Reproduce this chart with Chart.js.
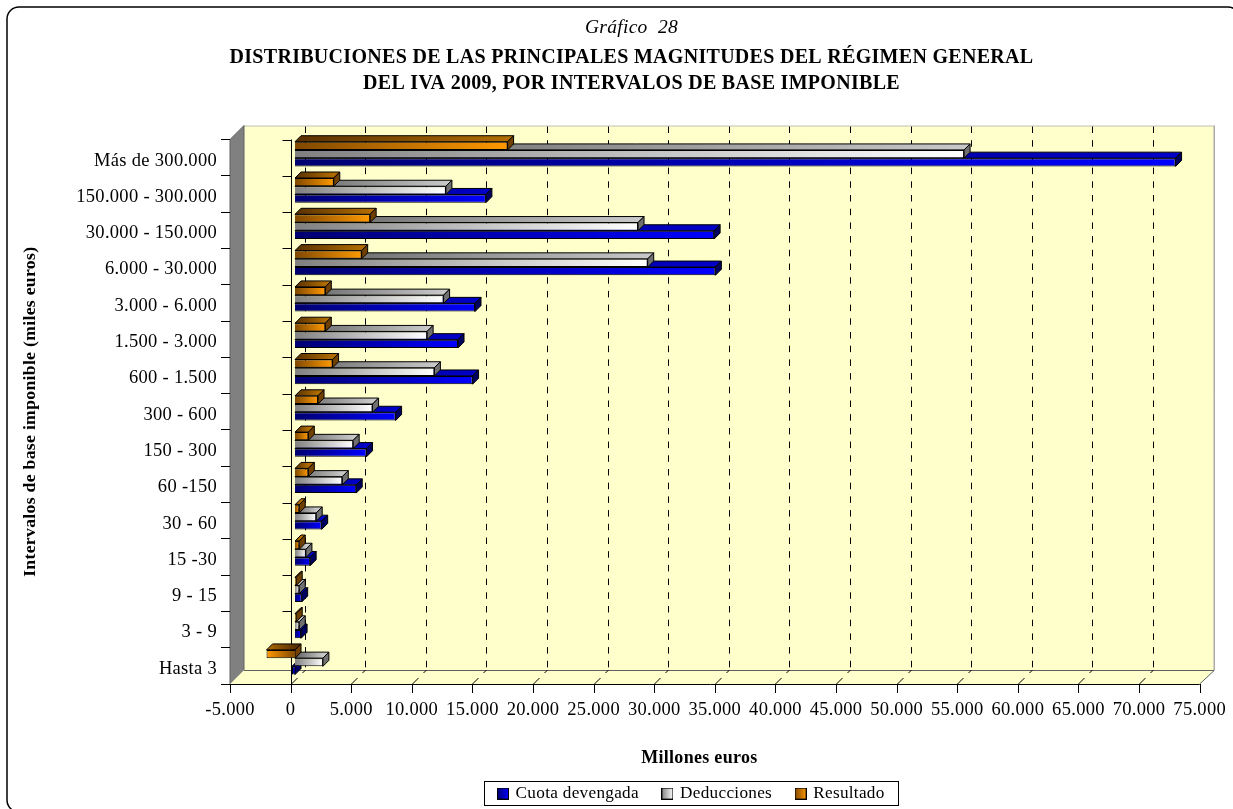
<!DOCTYPE html>
<html lang="es">
  <head>
    <meta charset="UTF-8" />
    <title>Gráfico 28</title>
    <script src="https://cdn.jsdelivr.net/npm/chart.js@4"></script>
    <style>
      html, body { margin: 0; padding: 0; background: #fff; overflow: hidden; }
      canvas { display: block; }
    </style>
  </head>
  <body>
    <canvas id="chart" width="1233" height="809"></canvas>
    <script>
      const categories = ["Más de 300.000", "150.000 - 300.000", "30.000 - 150.000", "6.000 - 30.000", "3.000 - 6.000", "1.500 - 3.000", "600 - 1.500", "300 - 600", "150 - 300", "60 -150", "30 - 60", "15 -30", "9 - 15", "3 - 9", "Hasta 3"];
      const cuotaDevengada = [72650, 15750, 34580, 34680, 14850, 13450, 14650, 8300, 5900, 5050, 2200, 1250, 550, 500, -250];
      const deducciones = [55200, 12450, 28300, 29100, 12260, 10900, 11500, 6400, 4800, 3900, 1750, 900, 350, 350, 2300];
      const resultado = [17540, 3200, 6200, 5500, 2500, 2500, 3100, 1900, 1100, 1100, 350, 350, 100, 100, -2350];
      const seriesNames = ["Cuota devengada", "Deducciones", "Resultado"];

      const serif = "'Liberation Serif', 'Times New Roman', serif";
      const DEPTH = 6; // bar depth
      const WALL = 14; // offset of the back wall
      const BAR_DX = 4.4;
      const BAR_DY = -3.6;
      const SPACING = "0.3px";

      // face dark, face bright, top dark, top bright, side
      const colors = {
        blue: ["#000070", "#0000ff", "#000060", "#0000c8", "#000060"],
        grey: ["#808080", "#ffffff", "#606060", "#c8c8c8", "#707070"],
        orange: ["#804800", "#ff9900", "#583000", "#b06c00", "#704000"],
      };

      function faceGradient(c, col) {
        const chart = c.chart;
        if (!chart.chartArea || c.parsed === undefined) return col[1];
        const x = chart.scales.x;
        const x0 = x.getPixelForValue(0);
        const x1 = x.getPixelForValue(c.parsed.x);
        const g = chart.ctx.createLinearGradient(x0, 0, x1 === x0 ? x0 + 1 : x1, 0);
        g.addColorStop(0, col[0]);
        g.addColorStop(1, col[1]);
        return g;
      }

      function swatch(col) {
        const s = document.createElement("canvas");
        s.width = 12;
        s.height = 12;
        const g = s.getContext("2d");
        const grad = g.createLinearGradient(0, 0, 12, 0);
        grad.addColorStop(0, col[0]);
        grad.addColorStop(1, col[1]);
        g.fillStyle = grad;
        g.fillRect(0, 0, 12, 12);
        g.strokeStyle = "#000";
        g.strokeRect(0.5, 0.5, 11, 11);
        return s;
      }

      function poly(ctx, pts, fill, stroke) {
        ctx.beginPath();
        pts.forEach((p, i) => (i ? ctx.lineTo(p[0], p[1]) : ctx.moveTo(p[0], p[1])));
        ctx.closePath();
        if (fill) {
          ctx.fillStyle = fill;
          ctx.fill();
        }
        if (stroke) {
          ctx.strokeStyle = stroke;
          ctx.stroke();
        }
      }

      // walls, floor and dashed grid behind the bars
      const box3d = {
        id: "box3d",
        beforeUpdate(chart) {
          chart.ctx.letterSpacing = SPACING;
        },
        afterLayout(chart) {
          const lg = chart.legend;
          lg.left = 474.5;
          lg.right = 1000;
          lg.top = 760.5;
          lg.bottom = 809;
          // titles are centred over the page, a bit right of the canvas middle
          chart.boxes.forEach((b) => {
            if (!b.axis && b !== lg) {
              b.left = 30;
              b.right = 1233;
            }
          });
          const x = chart.scales.x;
          const drawTitle = x.drawTitle;
          x.drawTitle = function () {
            chart.ctx.save();
            chart.ctx.translate(-15.5, 12);
            drawTitle.call(x);
            chart.ctx.restore();
          };
        },
        beforeDraw(chart) {
          const ctx = chart.ctx;
          const { left, right, top, bottom } = chart.chartArea;
          const x = chart.scales.x;
          ctx.save();
          ctx.letterSpacing = SPACING;
          ctx.fillStyle = "#fff";
          ctx.fillRect(0, 0, chart.width, chart.height);

          // outer frame
          ctx.beginPath();
          ctx.roundRect(7, 7, 1233, 805, 12);
          ctx.strokeStyle = "#000";
          ctx.lineWidth = 1.5;
          ctx.stroke();
          ctx.lineWidth = 1;

          // back wall
          ctx.fillStyle = "#ffffcc";
          ctx.fillRect(left + WALL, top - 14, right - left, bottom - top);
          ctx.strokeStyle = "#c0c0c0";
          ctx.beginPath();
          ctx.moveTo(left + WALL, top - 13.5);
          ctx.lineTo(right + WALL, top - 13.5);
          ctx.stroke();
          ctx.strokeStyle = "#808080";
          ctx.beginPath();
          ctx.moveTo(right + WALL + 0.5, top - 14);
          ctx.lineTo(right + WALL + 0.5, bottom - 14);
          ctx.stroke();

          // left wall and floor
          poly(ctx, [[left, top], [left + WALL, top - 14], [left + WALL, bottom - 14], [left, bottom]], "#808080", "#606060");
          poly(ctx, [[left, bottom], [left + WALL, bottom - 14], [right + WALL, bottom - 14], [right, bottom]], "#ffffcc");
          ctx.strokeStyle = "#606060";
          ctx.beginPath();
          ctx.moveTo(left + WALL, bottom - 13.5);
          ctx.lineTo(right + WALL + 0.5, bottom - 13.5);
          ctx.lineTo(right, bottom);
          ctx.stroke();

          // dashed grid on the back wall
          ctx.strokeStyle = "#000";
          ctx.setLineDash([6.5, 7.2]);
          x.ticks.forEach((t, i) => {
            if (i === 0 || i === x.ticks.length - 1) return;
            const px = Math.round(x.getPixelForTick(i) + WALL) + 0.5;
            ctx.beginPath();
            ctx.moveTo(px, top - 13);
            ctx.lineTo(px, bottom - 14);
            ctx.stroke();
          });
          ctx.setLineDash([]);

          // ticks under the axis, slanted marks across the floor
          x.ticks.forEach((t, i) => {
            const px = Math.round(x.getPixelForTick(i)) + 0.5;
            ctx.beginPath();
            ctx.moveTo(px, bottom);
            ctx.lineTo(px, bottom + 9);
            if (i > 0 && i < x.ticks.length - 1) {
              ctx.moveTo(px, bottom);
              ctx.lineTo(px + 6, bottom - 6);
              ctx.moveTo(px + 11, bottom - 11);
              ctx.lineTo(px + 14, bottom - 14);
            }
            ctx.stroke();
          });

          // bottom axis line and the zero line with its ticks
          const zero = Math.round(x.getPixelForValue(0)) + 0.5;
          const h = (bottom - top) / categories.length;
          ctx.beginPath();
          ctx.moveTo(left - 9, bottom + 0.5);
          ctx.lineTo(right, bottom + 0.5);
          ctx.moveTo(zero, top);
          ctx.lineTo(zero, bottom);
          for (let i = 0; i <= categories.length; i++) {
            const py = Math.round(top + i * h) + 0.5;
            ctx.moveTo(zero - 9, py);
            ctx.lineTo(zero, py);
          }
          ctx.stroke();
          ctx.restore();
        },
        beforeDatasetDraw(chart, args) {
          const ctx = chart.ctx;
          const col = chart.data.datasets[args.index].palette;
          ctx.save();
          ctx.translate(BAR_DX, BAR_DY);
          ctx.lineWidth = 1;
          args.meta.data.forEach((bar) => {
            const p = bar.getProps(["x", "y", "base", "height"], true);
            const a = Math.min(p.x, p.base);
            const b = Math.max(p.x, p.base);
            const t = p.y - p.height / 2;
            const u = p.y + p.height / 2;
            const g = ctx.createLinearGradient(p.base, 0, p.x === p.base ? p.base + 1 : p.x, 0);
            g.addColorStop(0, col[2]);
            g.addColorStop(1, col[3]);
            poly(ctx, [[a, t], [a + DEPTH, t - DEPTH], [b + DEPTH, t - DEPTH], [b, t]], g, "#000");
            poly(ctx, [[b, t], [b + DEPTH, t - DEPTH], [b + DEPTH, u - DEPTH], [b, u]], col[4], "#000");
          });
        },
        afterDatasetDraw(chart) {
          chart.ctx.restore();
        },
        afterDraw(chart) {
          // legend frame
          const ctx = chart.ctx;
          ctx.save();
          ctx.strokeStyle = "#000";
          ctx.lineWidth = 1;
          ctx.strokeRect(484.5, 781.5, 414, 24);
          ctx.restore();
        },
      };

      function barSet(label, data, col) {
        return {
          label,
          data,
          palette: col,
          clip: false,
          backgroundColor: (c) => faceGradient(c, col),
          borderColor: "#000",
          borderWidth: 1,
          barPercentage: 1,
          categoryPercentage: 0.68,
        };
      }

      Chart.defaults.font.family = serif;
      Chart.defaults.color = "#000";

      new Chart(document.getElementById("chart"), {
        type: "bar",
        plugins: [box3d],
        data: {
          labels: categories,
          datasets: [
            barSet(seriesNames[2], resultado, colors.orange),
            barSet(seriesNames[1], deducciones, colors.grey),
            barSet(seriesNames[0], cuotaDevengada, colors.blue),
          ],
        },
        options: {
          indexAxis: "y",
          responsive: false,
          animation: false,
          layout: { padding: { left: 0, right: 33, top: 16, bottom: 0 } },
          plugins: {
            tooltip: { enabled: false },
            title: {
              display: true,
              text: "Gráfico  28",
              font: { size: 19.5, style: "italic", weight: "normal", lineHeight: 1.2 },
              padding: { top: 0, bottom: 5.6 },
            },
            subtitle: {
              display: true,
              text: ["DISTRIBUCIONES DE LAS PRINCIPALES MAGNITUDES DEL RÉGIMEN GENERAL", "DEL IVA 2009, POR INTERVALOS DE BASE IMPONIBLE"],
              font: { size: 20, weight: "bold", lineHeight: 1.3 },
              padding: { top: 0, bottom: 42.5 },
            },
            legend: {
              position: "bottom",
              align: "start",
              reverse: true,
              labels: {
                usePointStyle: true,
                pointStyleWidth: 8,
                boxHeight: 12,
                padding: 24.5,
                font: { size: 17.2 },
                color: "#000",
                generateLabels: (chart) =>
                  chart.data.datasets.map((d, i) => ({
                    text: d.label,
                    pointStyle: swatch(d.palette),
                    datasetIndex: i,
                    lineWidth: 0,
                    fontColor: "#000",
                  })),
              },
            },
          },
          scales: {
            x: {
              type: "linear",
              min: -5000,
              max: 75000,
              grid: { display: false },
              border: { display: false },
              ticks: {
                stepSize: 5000,
                padding: 7,
                maxRotation: 0,
                autoSkip: false,
                font: { size: 18.5 },
                callback: (v) => String(v).replace(/\B(?=(\d{3})+$)/g, "."),
              },
              title: {
                display: true,
                text: "Millones euros",
                font: { size: 18, weight: "bold" },
                padding: { top: 0, bottom: 0 },
              },
              afterFit: (s) => { s.height = 125 - s.chart.legend.height; },
            },
            y: {
              grid: { drawOnChartArea: false, tickLength: 9, color: "#000" },
              border: { display: false },
              ticks: { padding: 4, labelOffset: 3, autoSkip: false, font: { size: 18.5 } },
              title: {
                display: true,
                text: "Intervalos de base imponible (miles euros)",
                font: { size: 17.7, weight: "bold" },
                padding: { top: 20, bottom: 0 },
              },
              afterFit: (s) => { s.width = 230; },
            },
          },
        },
      });
    </script>
  </body>
</html>
